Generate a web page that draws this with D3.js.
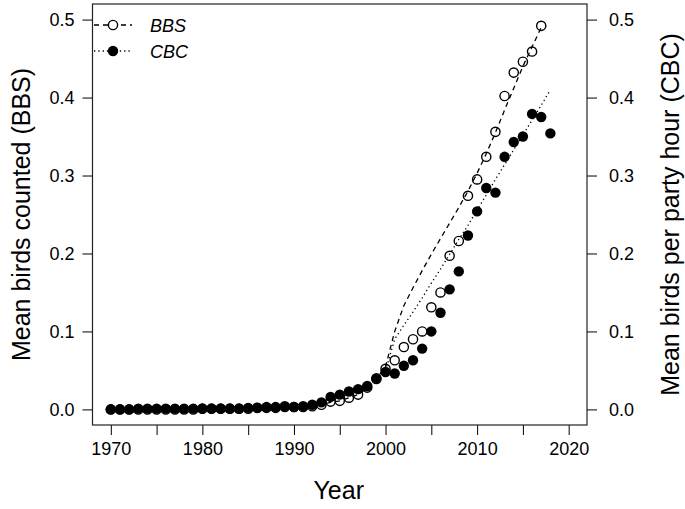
<!DOCTYPE html>
<html>
<head>
<meta charset="utf-8">
<script src="https://cdn.jsdelivr.net/npm/d3@7"></script>
<style>
  body { margin: 0; background: #fff; }
  svg { display: block; font-family: "Liberation Sans", Arial, sans-serif; }
</style>
</head>
<body>
<svg id="chart"></svg>
<script>
/*
BBS vs CBC trend, 1970-2018
 */

////////////////////////////////////////////////DATA/////////////////

let years = d3.range(1970, 2019);

// BBS mean birds counted, 1970-2017
let bbsCounts = [0, 0, 0, 0, 0, 0, 0, 0, 0, 0,
  0.001, 0.001, 0.001, 0.001, 0.001, 0.001, 0.002, 0.002, 0.002, 0.004,
  0.003, 0.003, 0.004, 0.006, 0.010, 0.011, 0.015, 0.019, 0.028, 0.039,
  0.052, 0.063, 0.080, 0.090, 0.100, 0.131, 0.150, 0.197, 0.216, 0.274,
  0.295, 0.324, 0.356, 0.402, 0.432, 0.446, 0.459, 0.492];

// CBC mean birds per party hour, 1970-2018
let cbcCounts = [0, 0, 0, 0.001, 0.001, 0.001, 0.001, 0.001, 0.001, 0.001,
  0.001, 0.001, 0.001, 0.001, 0.001, 0.002, 0.002, 0.003, 0.003, 0.003,
  0.003, 0.004, 0.006, 0.009, 0.016, 0.019, 0.023, 0.026, 0.030, 0.040,
  0.048, 0.046, 0.056, 0.063, 0.078, 0.100, 0.124, 0.154, 0.177, 0.223,
  0.254, 0.284, 0.278, 0.324, 0.343, 0.350, 0.379, 0.375, 0.354];

// fitted trend lines
let bbsFit = [0, 0, 0, 0, 0, 0, 0, 0, 0, 0,
  0.001, 0.001, 0.001, 0.001, 0.001, 0.001, 0.002, 0.002, 0.002, 0.003,
  0.003, 0.003, 0.004, 0.006, 0.009, 0.011, 0.015, 0.019, 0.027, 0.039,
  0.055, 0.100, 0.133, 0.156, 0.178, 0.199, 0.219, 0.239, 0.259, 0.280,
  0.303, 0.328, 0.355, 0.384, 0.412, 0.440, 0.465, 0.490];

let cbcFit = [0, 0, 0, 0.001, 0.001, 0.001, 0.001, 0.001, 0.001, 0.001,
  0.001, 0.001, 0.001, 0.001, 0.001, 0.002, 0.002, 0.003, 0.003, 0.003,
  0.003, 0.004, 0.006, 0.009, 0.015, 0.019, 0.023, 0.026, 0.030, 0.040,
  0.050, 0.090, 0.108, 0.125, 0.143, 0.162, 0.180, 0.199, 0.218, 0.236,
  0.256, 0.275, 0.295, 0.314, 0.333, 0.352, 0.371, 0.390, 0.410];

let xTicks = d3.range(1970, 2021, 5);
let xLabelTicks = [1970, 1980, 1990, 2000, 2010, 2020];
let yTicks = [0, 0.1, 0.2, 0.3, 0.4, 0.5];

let seriesNames = ['BBS', 'CBC'];

////////////////////////////////////////////////SETUP/////////////////

let w = 685;
let h = 509;
let box = { left: 92.5, right: 587, top: 4, bottom: 425 };

let xScale = d3.scaleLinear()
  .domain([1968, 2022])
  .range([box.left, box.right]);

let yScale = d3.scaleLinear()
  .domain([-0.02, 0.52])
  .range([box.bottom, box.top]);

let svg = d3.select('#chart')
  .attr('width', w)
  .attr('height', h);

let bbs = years.slice(0, bbsCounts.length).map((y, i) => ({ year: y, v: bbsCounts[i], fit: bbsFit[i] }));
let cbc = years.map((y, i) => ({ year: y, v: cbcCounts[i], fit: cbcFit[i] }));

////////////////////////////////////////////////AXES/////////////////

let fmt = d3.format('.1f');

let xAxis = d3.axisBottom(xScale)
  .tickValues(xTicks)
  .tickSize(10)
  .tickFormat((d) => xLabelTicks.includes(d) ? d : '');
svg.append('g')
  .attr('transform', `translate(0, ${box.bottom})`)
  .call(xAxis)
  .call((g) => g.select('.domain').remove())
  .call((g) => g.selectAll('text').attr('font-size', 18).attr('dy', '0.95em').attr('fill', '#000'))
  .call((g) => g.selectAll('line').attr('stroke', '#000'));

let yAxisL = d3.axisLeft(yScale)
  .tickValues(yTicks)
  .tickSize(10)
  .tickPadding(8)
  .tickFormat(fmt);
svg.append('g')
  .attr('transform', `translate(${box.left}, 0)`)
  .call(yAxisL)
  .call((g) => g.select('.domain').remove())
  .call((g) => g.selectAll('text').attr('font-size', 18).attr('fill', '#000'))
  .call((g) => g.selectAll('line').attr('stroke', '#000'));

let yAxisR = d3.axisRight(yScale)
  .tickValues(yTicks)
  .tickSize(10)
  .tickPadding(12)
  .tickFormat(fmt);
svg.append('g')
  .attr('transform', `translate(${box.right}, 0)`)
  .call(yAxisR)
  .call((g) => g.select('.domain').remove())
  .call((g) => g.selectAll('text').attr('font-size', 18).attr('fill', '#000'))
  .call((g) => g.selectAll('line').attr('stroke', '#000'));

// plot box
svg.append('rect')
  .attr('x', box.left)
  .attr('y', box.top)
  .attr('width', box.right - box.left)
  .attr('height', box.bottom - box.top)
  .attr('fill', 'none')
  .attr('stroke', '#222')
  .attr('stroke-width', 1.2);

// axis titles
svg.append('text')
  .attr('x', (box.left + box.right) / 2 - 1)
  .attr('y', 499)
  .attr('text-anchor', 'middle')
  .attr('font-size', 25)
  .text('Year');

svg.append('text')
  .attr('transform', `translate(30, ${(box.top + box.bottom) / 2}) rotate(-90)`)
  .attr('text-anchor', 'middle')
  .attr('font-size', 25)
  .text('Mean birds counted (BBS)');

svg.append('text')
  .attr('transform', `translate(679, ${(box.top + box.bottom) / 2}) rotate(-90)`)
  .attr('text-anchor', 'middle')
  .attr('font-size', 25)
  .text('Mean birds per party hour (CBC)');

////////////////////////////////////////////////MARKS/////////////////

let line = d3.line()
  .x((d) => xScale(d.year))
  .y((d) => yScale(d.fit));

svg.append('path')
  .datum(bbs)
  .attr('d', line)
  .attr('fill', 'none')
  .attr('stroke', '#000')
  .attr('stroke-width', 1.3)
  .attr('stroke-dasharray', '5,4');

svg.append('path')
  .datum(cbc)
  .attr('d', line)
  .attr('fill', 'none')
  .attr('stroke', '#000')
  .attr('stroke-width', 1.3)
  .attr('stroke-dasharray', '1.3,3');

svg.append('g').selectAll('circle')
  .data(cbc)
  .enter()
  .append('circle')
  .attr('cx', (d) => xScale(d.year))
  .attr('cy', (d) => yScale(d.v))
  .attr('r', 5.2)
  .attr('fill', '#000');

svg.append('g').selectAll('circle')
  .data(bbs)
  .enter()
  .append('circle')
  .attr('cx', (d) => xScale(d.year))
  .attr('cy', (d) => yScale(d.v))
  .attr('r', 4.6)
  .attr('fill', 'none')
  .attr('stroke', '#000')
  .attr('stroke-width', 1.4);

////////////////////////////////////////////////LEGEND/////////////////

let legend = svg.append('g');
let legRows = [
  { name: seriesNames[0], dash: '5,4', filled: false, y: 25 },
  { name: seriesNames[1], dash: '1.3,3', filled: true, y: 51 }
];

legRows.forEach((r) => {
  legend.append('line')
    .attr('x1', 94).attr('x2', 132)
    .attr('y1', r.y).attr('y2', r.y)
    .attr('stroke', '#000')
    .attr('stroke-width', 1.3)
    .attr('stroke-dasharray', r.dash);
  legend.append('circle')
    .attr('cx', 113).attr('cy', r.y)
    .attr('r', r.filled ? 5.2 : 4.6)
    .attr('fill', r.filled ? '#000' : '#fff')
    .attr('stroke', '#000')
    .attr('stroke-width', r.filled ? 0 : 1.4);
  legend.append('text')
    .attr('x', 150).attr('y', r.y + 6.5)
    .attr('font-size', 18)
    .attr('font-style', 'italic')
    .text(r.name);
});
</script>
</body>
</html>
